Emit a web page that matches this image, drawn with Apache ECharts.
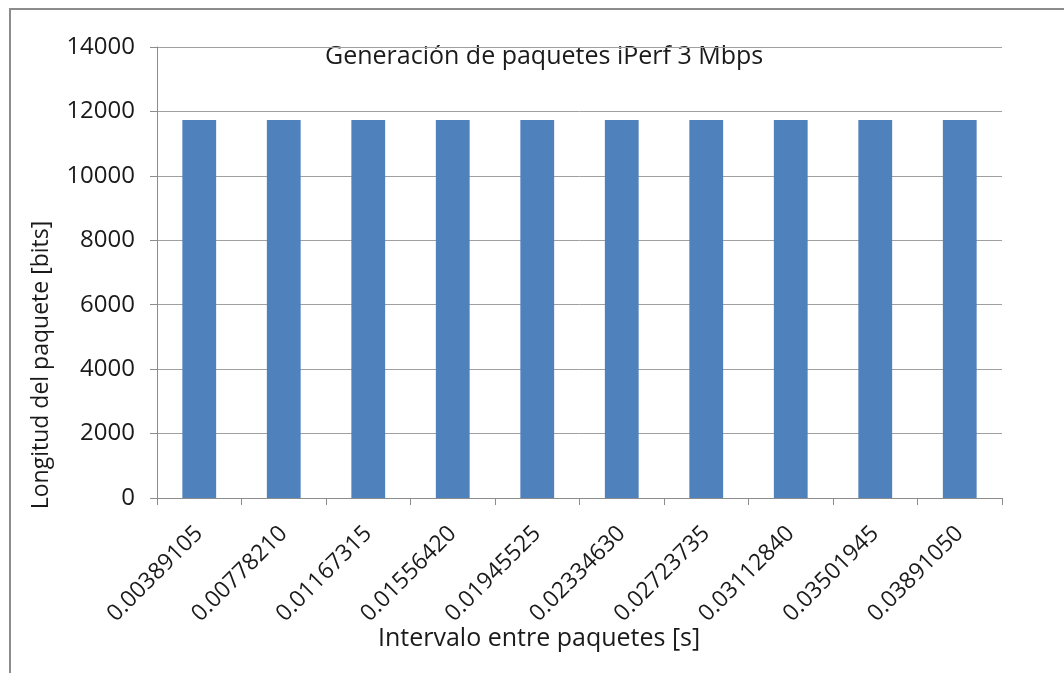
<!DOCTYPE html>
<html>
<head>
<meta charset="utf-8">
<script src="https://cdn.jsdelivr.net/npm/echarts@6/dist/echarts.min.js"></script>
<style>
  html, body { margin: 0; padding: 0; background: #fff; }
  #chart { width: 1064px; height: 673px; }
</style>
</head>
<body>
<div id="chart"></div>
<script>
// intervalos entre paquetes (s)
const intervalos = ['0.00389105', '0.00778210', '0.01167315', '0.01556420', '0.01945525',
  '0.02334630', '0.02723735', '0.03112840', '0.03501945', '0.03891050'];
// longitud del paquete (bits)
const longitudes = [11736, 11736, 11736, 11736, 11736, 11736, 11736, 11736, 11736, 11736];

const titulo = 'Generación de paquetes iPerf 3 Mbps';
const nombreX = 'Intervalo entre paquetes [s]';
const nombreY = 'Longitud del paquete [bits]';

const fuente = 'Open Sans';
const gris = '#8c8c8c';
const texto = '#1a1a1a';

const myChart = echarts.init(document.getElementById('chart'));

const option = {
  animation: false,
  textStyle: { fontFamily: fuente },
  grid: { left: 157, right: 62, top: 47, bottom: 175 },
  graphic: [
    // marco (solo se ven borde superior e izquierdo)
    { type: 'polyline', shape: { points: [[10, 673], [10, 9], [1064, 9]] },
      style: { stroke: gris, lineWidth: 2, fill: null } },
    { type: 'text', left: 325, top: 44,
      style: { text: titulo, font: '25px ' + fuente, fill: texto } },
    { type: 'text', left: 378, top: 626,
      style: { text: nombreX, font: '25px ' + fuente, fill: texto } },
    { type: 'text', x: 41, y: 365, rotation: Math.PI / 2,
      style: { text: nombreY, font: '23px ' + fuente, fill: texto, align: 'center', verticalAlign: 'middle' } }
  ],
  xAxis: {
    type: 'category',
    data: intervalos,
    axisLine: { lineStyle: { color: gris } },
    axisTick: { show: true, length: 7, lineStyle: { color: gris } },
    axisLabel: { rotate: 45, fontSize: 23, color: texto, margin: 32, interval: 0 }
  },
  yAxis: {
    type: 'value',
    min: 0,
    max: 14000,
    interval: 2000,
    axisLine: { show: true, lineStyle: { color: gris } },
    axisTick: { show: true, length: 7, lineStyle: { color: gris } },
    axisLabel: { fontSize: 24, color: texto, margin: 22, formatter: v => String(v) },
    splitLine: { lineStyle: { color: '#a0a0a0' } }
  },
  series: [
    {
      type: 'bar',
      data: longitudes,
      barWidth: '40%',
      itemStyle: { color: '#4f81bd' }
    }
  ]
};

myChart.setOption(option);
</script>
</body>
</html>
